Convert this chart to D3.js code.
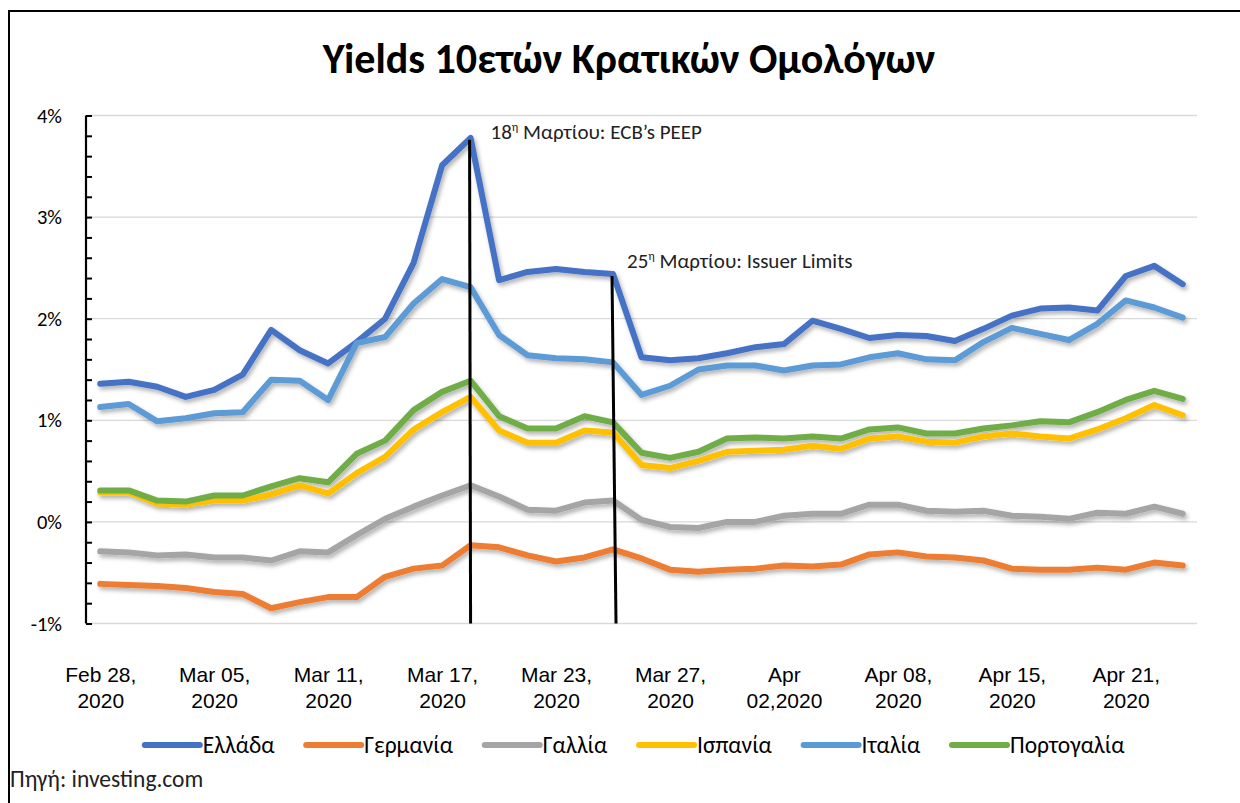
<!DOCTYPE html>
<html>
<head>
<meta charset="utf-8">
<script src="https://cdn.jsdelivr.net/npm/d3@7"></script>
<style>
  body { margin: 0; background: #fff; }
  svg { display: block; font-family: Carlito, 'Open Sans', sans-serif; }
</style>
</head>
<body>
<svg id="chart"></svg>
<script>
// Trading days, Feb 28 - Apr 23 2020
const dates = [
  'Feb 28', 'Mar 02', 'Mar 03', 'Mar 04', 'Mar 05', 'Mar 06', 'Mar 09', 'Mar 10', 'Mar 11', 'Mar 12',
  'Mar 13', 'Mar 16', 'Mar 17', 'Mar 18', 'Mar 19', 'Mar 20', 'Mar 23', 'Mar 24', 'Mar 25', 'Mar 26',
  'Mar 27', 'Mar 30', 'Mar 31', 'Apr 01', 'Apr 02', 'Apr 03', 'Apr 06', 'Apr 07', 'Apr 08', 'Apr 09',
  'Apr 10', 'Apr 14', 'Apr 15', 'Apr 16', 'Apr 17', 'Apr 20', 'Apr 21', 'Apr 22', 'Apr 23'
];

const greece = [1.36, 1.38, 1.33, 1.23, 1.30, 1.45, 1.89, 1.69, 1.56, 1.77, 2.00, 2.55, 3.51, 3.78, 2.38, 2.46, 2.49, 2.46, 2.44, 1.62,
  1.59, 1.61, 1.66, 1.72, 1.75, 1.98, 1.90, 1.81, 1.84, 1.83, 1.78, 1.90, 2.03, 2.10, 2.11, 2.08, 2.42, 2.52, 2.34];
const germany = [-0.61, -0.62, -0.63, -0.65, -0.69, -0.71, -0.85, -0.79, -0.74, -0.74, -0.54, -0.46, -0.43, -0.23, -0.25, -0.33, -0.39, -0.35, -0.27, -0.36,
  -0.47, -0.49, -0.47, -0.46, -0.43, -0.44, -0.42, -0.32, -0.30, -0.34, -0.35, -0.38, -0.46, -0.47, -0.47, -0.45, -0.47, -0.40, -0.43];
const france = [-0.29, -0.30, -0.33, -0.32, -0.35, -0.35, -0.38, -0.29, -0.30, -0.13, 0.03, 0.15, 0.26, 0.36, 0.25, 0.12, 0.11, 0.19, 0.21, 0.02,
  -0.05, -0.06, 0.00, 0.00, 0.06, 0.08, 0.08, 0.17, 0.17, 0.11, 0.10, 0.11, 0.06, 0.05, 0.03, 0.09, 0.08, 0.15, 0.08];
const spain = [0.29, 0.29, 0.18, 0.17, 0.21, 0.21, 0.27, 0.36, 0.28, 0.48, 0.64, 0.91, 1.08, 1.23, 0.90, 0.78, 0.78, 0.90, 0.88, 0.56,
  0.53, 0.60, 0.69, 0.70, 0.71, 0.75, 0.72, 0.82, 0.84, 0.79, 0.78, 0.84, 0.87, 0.84, 0.82, 0.91, 1.02, 1.15, 1.05];
const italy = [1.13, 1.16, 0.99, 1.02, 1.07, 1.08, 1.40, 1.39, 1.20, 1.76, 1.82, 2.15, 2.39, 2.31, 1.84, 1.64, 1.61, 1.60, 1.57, 1.25,
  1.34, 1.50, 1.54, 1.54, 1.49, 1.54, 1.55, 1.62, 1.66, 1.60, 1.59, 1.77, 1.91, 1.85, 1.79, 1.95, 2.18, 2.11, 2.01];
const portugal = [0.31, 0.31, 0.21, 0.20, 0.26, 0.26, 0.35, 0.43, 0.39, 0.67, 0.80, 1.10, 1.28, 1.39, 1.04, 0.92, 0.92, 1.04, 0.98, 0.68,
  0.63, 0.69, 0.82, 0.83, 0.82, 0.84, 0.82, 0.91, 0.93, 0.87, 0.87, 0.92, 0.95, 0.99, 0.98, 1.08, 1.20, 1.29, 1.21];

const seriesNames = ['Ελλάδα', 'Γερμανία', 'Γαλλία', 'Ισπανία', 'Ιταλία', 'Πορτογαλία'];
const seriesColors = ['#4472C4', '#ED7D31', '#A5A5A5', '#FFC000', '#5B9BD5', '#70AD47'];

// x-axis labels: every 4th category, two lines each
const tickDates = ['Feb 28', 'Mar 05', 'Mar 11', 'Mar 17', 'Mar 23', 'Mar 27', 'Apr 02', 'Apr 08', 'Apr 15', 'Apr 21'];
const tickLabels = [
  ['Feb 28,', '2020'], ['Mar 05,', '2020'], ['Mar 11,', '2020'], ['Mar 17,', '2020'], ['Mar 23,', '2020'],
  ['Mar 27,', '2020'], ['Apr', '02,2020'], ['Apr 08,', '2020'], ['Apr 15,', '2020'], ['Apr 21,', '2020']
];
const yTicks = [-1, 0, 1, 2, 3, 4];

const events = [
  { date: 'Mar 18', num: '18', text: '  Μαρτίου: ECB’s PEEP' },
  { date: 'Mar 25', num: '25', text: ' Μαρτίου: Issuer Limits' }
];

const W = 1240, H = 803;
const margin = { top: 115.5, right: 43, bottom: 179.5, left: 86 };

const svg = d3.select('#chart').attr('width', W).attr('height', H);

const series = [greece, germany, france, spain, italy, portugal].map((values, i) => ({
  name: seriesNames[i],
  color: seriesColors[i],
  values: values.map((v, j) => ({ date: dates[j], value: v }))
}));

const x = d3.scalePoint()
  .domain(dates)
  .range([margin.left, W - margin.right])
  .padding(0.5);

const y = d3.scaleLinear()
  .domain([-1, 4])
  .range([H - margin.bottom, margin.top]);

// shadow like the Excel lines
const defs = svg.append('defs');
defs.append('filter')
  .attr('id', 'shadow')
  .attr('x', '-5%').attr('y', '-20%').attr('width', '110%').attr('height', '140%')
  .append('feDropShadow')
  .attr('dx', 2).attr('dy', 3)
  .attr('stdDeviation', 2)
  .attr('flood-color', '#000')
  .attr('flood-opacity', 0.3);

// outer frame
svg.append('path')
  .attr('d', `M9,${H} V11 H${W}`)
  .attr('fill', 'none')
  .attr('stroke', '#000')
  .attr('stroke-width', 2);

// title
svg.append('text')
  .attr('x', 629)
  .attr('y', 73)
  .attr('text-anchor', 'middle')
  .attr('font-size', 42)
  .attr('font-weight', 700)
  .text('Yields 10ετών Κρατικών Ομολόγων');

// gridlines
svg.append('g')
  .selectAll('line')
  .data(yTicks)
  .join('line')
  .attr('x1', margin.left)
  .attr('x2', W - margin.right)
  .attr('y1', d => y(d))
  .attr('y2', d => y(d))
  .attr('stroke', '#d9d9d9')
  .attr('stroke-width', 1.3);

// y axis with inside minor ticks
const yAxis = svg.append('g')
  .attr('transform', `translate(${margin.left},0)`)
  .call(d3.axisRight(y).tickValues(d3.range(-1, 4.01, 0.2)).tickSize(6).tickFormat(''));
yAxis.select('.domain').attr('stroke', '#000').attr('stroke-width', 2.2).attr('d', `M0,${y(-1)}V${y(4)}`);
yAxis.selectAll('.tick line').attr('stroke', '#000').attr('stroke-width', 2);

svg.append('g')
  .selectAll('text')
  .data(yTicks)
  .join('text')
  .attr('x', 62)
  .attr('y', d => y(d) + 7)
  .attr('text-anchor', 'end')
  .attr('font-size', 20.5)
  .attr('fill', '#000')
  .text(d => d + '%');

// x axis labels
const xAxis = svg.append('g')
  .attr('transform', `translate(0,${y(-1)})`)
  .call(d3.axisBottom(x).tickValues(tickDates).tickSize(0).tickFormat(''));
xAxis.select('.domain').remove();
xAxis.selectAll('.tick text').remove();
xAxis.selectAll('.tick')
  .append('text')
  .attr('text-anchor', 'middle')
  .attr('font-size', 21)
  .attr('fill', '#000')
  .selectAll('tspan')
  .data((d, i) => tickLabels[i])
  .join('tspan')
  .attr('x', 0)
  .attr('y', (d, i) => 58 + i * 26)
  .text(d => d);

// series lines
const line = d3.line()
  .x(d => x(d.date))
  .y(d => y(d.value));

svg.append('g')
  .attr('filter', 'url(#shadow)')
  .selectAll('path')
  .data(series)
  .join('path')
  .attr('d', d => line(d.values))
  .attr('fill', 'none')
  .attr('stroke', d => d.color)
  .attr('stroke-width', 6)
  .attr('stroke-linejoin', 'round')
  .attr('stroke-linecap', 'round');

// event markers
events.forEach((ev, i) => {
  const gy = greece[dates.indexOf(ev.date)];
  svg.append('line')
    .attr('x1', x(ev.date) - 1)
    .attr('x2', x(ev.date) + (i === 1 ? 3 : 0))
    .attr('y1', y(gy) + 2)
    .attr('y2', y(-1))
    .attr('stroke', '#000')
    .attr('stroke-width', 3);

  const t = svg.append('text')
    .attr('x', x(ev.date) + (i === 0 ? 20 : 14))
    .attr('y', y(gy) + (i === 0 ? 1 : -6))
    .attr('font-size', 21)
    .attr('fill', '#222');
  t.append('tspan').text(ev.num);
  t.append('tspan').attr('font-size', 12).attr('dy', -8).text('η');
  t.append('tspan').attr('dy', 8).text(ev.text);
});

// legend
const legend = svg.append('g').attr('transform', 'translate(0,745)');
const items = legend.selectAll('g')
  .data(series)
  .join('g');
items.append('line')
  .attr('x1', 0).attr('x2', 55)
  .attr('stroke', d => d.color)
  .attr('stroke-width', 6)
  .attr('stroke-linecap', 'round');
items.append('text')
  .attr('x', 58)
  .attr('y', 8)
  .attr('font-size', 23.5)
  .attr('fill', '#000')
  .text(d => d.name);

let widths = [];
items.each(function () { widths.push(this.getBBox().width); });
const gap = 31;
const total = d3.sum(widths) + gap * (widths.length - 1);
let cx = 635 - total / 2;
items.attr('transform', (d, i) => {
  const tx = cx;
  cx += widths[i] + gap;
  return `translate(${tx},0)`;
});

// source
svg.append('text')
  .attr('x', 10)
  .attr('y', 787)
  .attr('font-size', 23.5)
  .attr('fill', '#222')
  .text('Πηγή: investing.com');
</script>
</body>
</html>
